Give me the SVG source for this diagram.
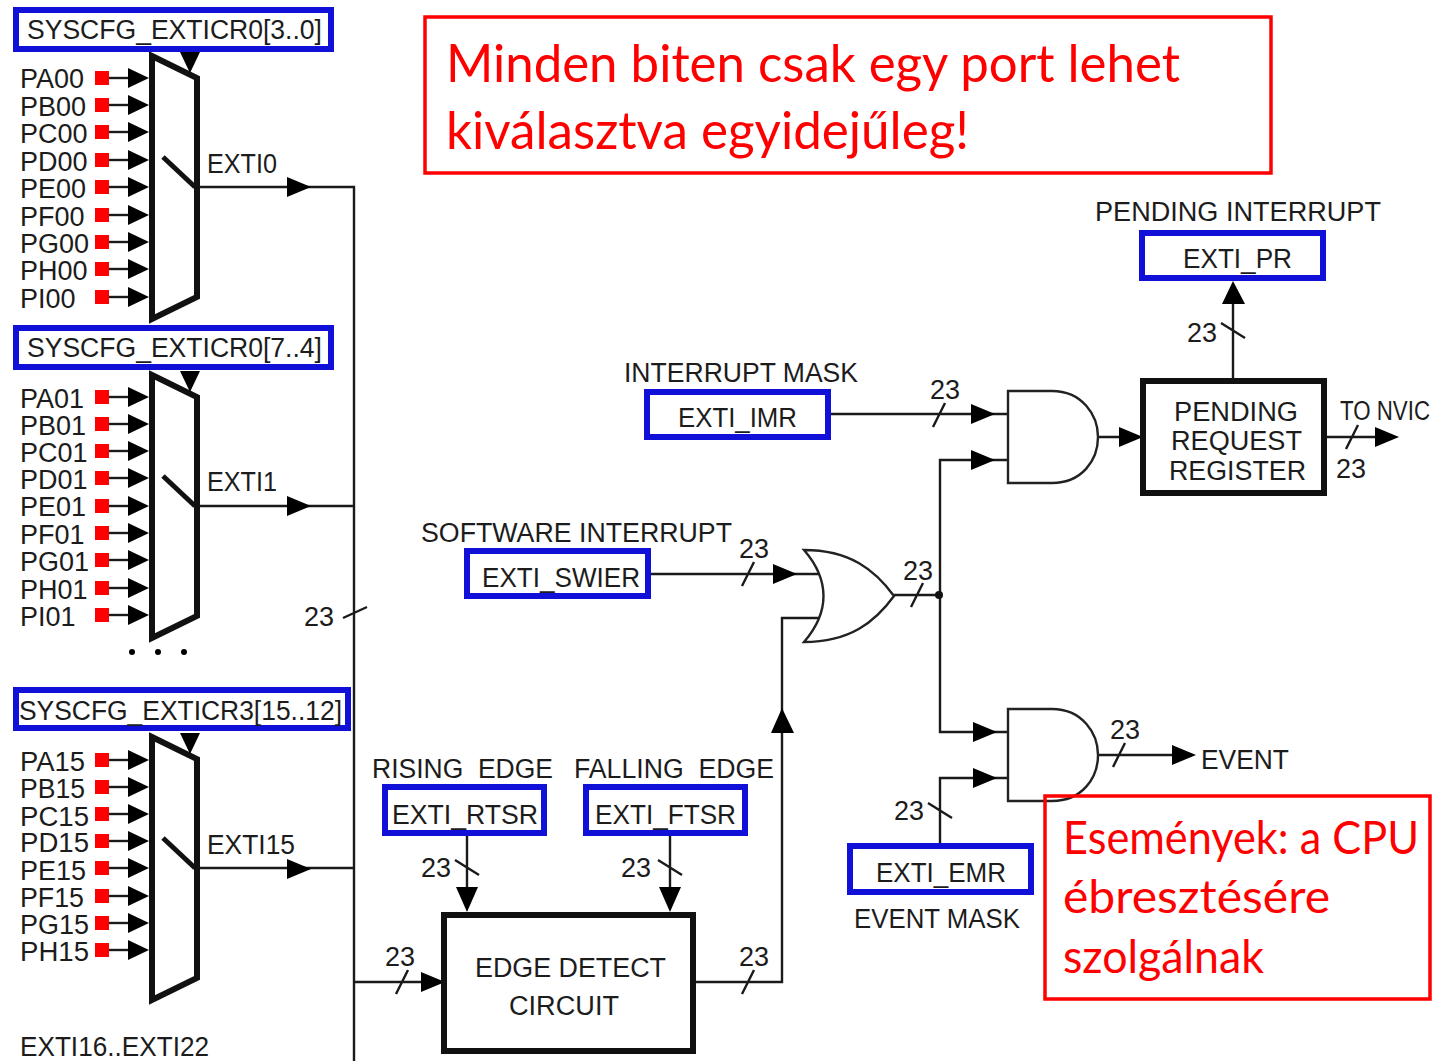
<svg xmlns="http://www.w3.org/2000/svg" xmlns:xlink="http://www.w3.org/1999/xlink" width="1434" height="1061" viewBox="0 0 1434 1061">
<style>
text{font-family:"Liberation Sans",Arial,sans-serif;font-size:27px;fill:#1c1c1c;transform:translate(-1px,0)}
.r{font-family:"Lato","Open Sans",sans-serif;font-size:52px;fill:#f00}
.r2{font-family:"Lato","Open Sans",sans-serif;font-size:46px;fill:#f00}
.w{fill:none;stroke:#1a1a1a;stroke-width:2.4}
.t{fill:#fff;stroke:#111;stroke-width:6;stroke-linejoin:miter}
.m{fill:none;stroke:#111;stroke-width:6}
.b{fill:#fff;stroke:#1010d8;stroke-width:6}
.k{fill:none;stroke:#f00;stroke-width:3.5}
.g{fill:#fff;stroke:#222;stroke-width:2.4}
</style>
<defs>
<g id="in"><rect x="95" y="-7" width="14" height="14" fill="#f00"/><path d="M109 0H130" class="w"/><path d="M128-10L149 0L128 10Z" fill="#000"/></g>
<path id="ar" d="M0-10L24 0L0 10Z" fill="#000"/>
<g id="mux"><path d="M152 56L197 78V297L152 319Z" class="m"/><path d="M163 157L195 187" fill="none" stroke="#111" stroke-width="5"/><path d="M180 52H200L190 73Z" fill="#000"/></g>
</defs>
<g id="connectors">
<path class="w" d="M197 187H354V1061M197 506H354M197 868H354M354 982H430M343 618L367 607"/>
<path class="w" d="M694 982H782V618H822M782 733V982M396 994L408 970M742 994L754 970"/>
<use xlink:href="#ar" transform="translate(287 187)"/><use xlink:href="#ar" transform="translate(287 506)"/><use xlink:href="#ar" transform="translate(287 869)"/>
<use xlink:href="#ar" transform="translate(421 982)"/>
<path d="M771 733L782 708L794 733Z" fill="#000"/>
<path class="w" d="M467 833V890M670 833V890M455 860L479 875M658 860L682 875"/>
<path d="M456 887H478L467 912Z M659 887H681L670 912Z" fill="#000"/>
<path class="w" d="M829 414H1010M933 427L945 403M1098 437H1122M1324 437H1376M1346 449L1358 425M1233 302V378M1221 323L1245 338M650 574H822M742 586L754 562"/>
<use xlink:href="#ar" transform="translate(971 414)"/><use xlink:href="#ar" transform="translate(1119 437)"/><use xlink:href="#ar" transform="translate(1375 437)"/>
<path d="M1222 304L1233 281L1245 304Z" fill="#000"/>
<use xlink:href="#ar" transform="translate(773 574)"/>
<path class="w" d="M894 595H940M911 607L923 583M1008 460H940V732H1008M1008 778H940V844M928 803L952 818M1098 755H1172M1113 767L1125 743"/>
<use xlink:href="#ar" transform="translate(971 460)"/><use xlink:href="#ar" transform="translate(973 732)"/><use xlink:href="#ar" transform="translate(973 778)"/><use xlink:href="#ar" transform="translate(1172 755)"/>
<circle cx="939" cy="595" r="4" fill="#111"/>
<circle cx="132" cy="652" r="3" fill="#000"/><circle cx="158" cy="652" r="3" fill="#000"/><circle cx="184" cy="652" r="3" fill="#000"/>
</g>
<g id="mux0">
<use xlink:href="#in" y="78"/><use xlink:href="#in" y="105"/><use xlink:href="#in" y="132"/><use xlink:href="#in" y="160"/><use xlink:href="#in" y="187"/><use xlink:href="#in" y="215"/><use xlink:href="#in" y="242"/><use xlink:href="#in" y="269"/><use xlink:href="#in" y="297"/>
<use xlink:href="#mux"/>
<text x="21" y="88">PA00</text><text x="21" y="116">PB00</text><text x="21" y="143">PC00</text><text x="21" y="171">PD00</text><text x="21" y="198">PE00</text><text x="21" y="226">PF00</text><text x="21" y="253">PG00</text><text x="21" y="280">PH00</text><text x="21" y="308">PI00</text>
<text x="208" y="173" textLength="70" lengthAdjust="spacingAndGlyphs">EXTI0</text>
</g>
<g id="mux1">
<use xlink:href="#in" y="397"/><use xlink:href="#in" y="424"/><use xlink:href="#in" y="451"/><use xlink:href="#in" y="478"/><use xlink:href="#in" y="506"/><use xlink:href="#in" y="533"/><use xlink:href="#in" y="560"/><use xlink:href="#in" y="588"/><use xlink:href="#in" y="615"/>
<use xlink:href="#mux" y="319"/>
<text x="21" y="408">PA01</text><text x="21" y="435">PB01</text><text x="21" y="462">PC01</text><text x="21" y="489">PD01</text><text x="21" y="516">PE01</text><text x="21" y="544">PF01</text><text x="21" y="571">PG01</text><text x="21" y="599">PH01</text><text x="21" y="626">PI01</text>
<text x="208" y="491" textLength="70" lengthAdjust="spacingAndGlyphs">EXTI1</text>
</g>
<g id="mux15">
<use xlink:href="#in" y="760"/><use xlink:href="#in" y="787"/><use xlink:href="#in" y="814"/><use xlink:href="#in" y="841"/><use xlink:href="#in" y="868"/><use xlink:href="#in" y="896"/><use xlink:href="#in" y="923"/><use xlink:href="#in" y="950"/>
<use xlink:href="#mux" y="681"/>
<text x="21" y="771" textLength="65" lengthAdjust="spacingAndGlyphs">PA15</text><text x="21" y="798" textLength="65" lengthAdjust="spacingAndGlyphs">PB15</text><text x="21" y="826" textLength="69" lengthAdjust="spacingAndGlyphs">PC15</text><text x="21" y="852" textLength="69" lengthAdjust="spacingAndGlyphs">PD15</text><text x="21" y="880" textLength="66" lengthAdjust="spacingAndGlyphs">PE15</text><text x="21" y="907" textLength="64" lengthAdjust="spacingAndGlyphs">PF15</text><text x="21" y="934" textLength="69" lengthAdjust="spacingAndGlyphs">PG15</text><text x="21" y="961" textLength="69" lengthAdjust="spacingAndGlyphs">PH15</text>
<text x="208" y="854" textLength="88" lengthAdjust="spacingAndGlyphs">EXTI15</text>
</g>
<g id="reg-exticr0"><rect class="b" x="16" y="10" width="315" height="39"/><text x="28" y="39" textLength="295" lengthAdjust="spacingAndGlyphs">SYSCFG_EXTICR0[3..0]</text></g>
<g id="reg-exticr0b"><rect class="b" x="16" y="328" width="315" height="39"/><text x="28" y="357" textLength="295" lengthAdjust="spacingAndGlyphs">SYSCFG_EXTICR0[7..4]</text></g>
<g id="reg-exticr3"><rect class="b" x="16" y="690" width="332" height="38"/><text x="20" y="720" textLength="323" lengthAdjust="spacingAndGlyphs">SYSCFG_EXTICR3[15..12]</text></g>
<g id="labels">
<text x="305" y="626">23</text>
<text x="21" y="1056" textLength="189" lengthAdjust="spacingAndGlyphs">EXTI16..EXTI22</text>
<text x="386" y="966">23</text><text x="422" y="877">23</text><text x="622" y="877">23</text><text x="740" y="966">23</text>
<text x="931" y="399">23</text><text x="1188" y="342">23</text><text x="1337" y="478">23</text><text x="740" y="558">23</text><text x="904" y="580">23</text><text x="1111" y="739">23</text><text x="895" y="820">23</text>
<text x="1096" y="221" textLength="286" lengthAdjust="spacingAndGlyphs">PENDING INTERRUPT</text>
<text x="625" y="382" textLength="234" lengthAdjust="spacingAndGlyphs">INTERRUPT MASK</text>
<text x="422" y="542" textLength="311" lengthAdjust="spacingAndGlyphs">SOFTWARE INTERRUPT</text>
<text x="373" y="778" textLength="181" lengthAdjust="spacingAndGlyphs" xml:space="preserve">RISING  EDGE</text>
<text x="575" y="778" textLength="200" lengthAdjust="spacingAndGlyphs" xml:space="preserve">FALLING  EDGE</text>
<text x="855" y="928" textLength="166" lengthAdjust="spacingAndGlyphs">EVENT MASK</text>
<text x="1202" y="769" textLength="88" lengthAdjust="spacingAndGlyphs">EVENT</text>
<text x="1341" y="420" textLength="90" lengthAdjust="spacingAndGlyphs">TO NVIC</text>
</g>
<g id="exti-pr"><rect class="b" x="1142" y="233" width="181" height="45"/><text x="1184" y="268" textLength="109" lengthAdjust="spacingAndGlyphs">EXTI_PR</text></g>
<g id="exti-imr"><rect class="b" x="647" y="392" width="181" height="45"/><text x="679" y="427" textLength="119" lengthAdjust="spacingAndGlyphs">EXTI_IMR</text></g>
<g id="exti-swier"><rect class="b" x="467" y="551" width="181" height="45"/><text x="483" y="587" textLength="158" lengthAdjust="spacingAndGlyphs">EXTI_SWIER</text></g>
<g id="exti-rtsr"><rect class="b" x="385" y="787" width="159" height="46"/><text x="393" y="824" textLength="146" lengthAdjust="spacingAndGlyphs">EXTI_RTSR</text></g>
<g id="exti-ftsr"><rect class="b" x="586" y="787" width="159" height="46"/><text x="596" y="824" textLength="141" lengthAdjust="spacingAndGlyphs">EXTI_FTSR</text></g>
<g id="exti-emr"><rect class="b" x="850" y="846" width="181" height="46"/><text x="877" y="882" textLength="130" lengthAdjust="spacingAndGlyphs">EXTI_EMR</text></g>
<g id="edge-detect"><rect class="t" x="444" y="915" width="249" height="136"/><text x="476" y="977" textLength="191" lengthAdjust="spacingAndGlyphs">EDGE DETECT</text><text x="510" y="1015" textLength="110" lengthAdjust="spacingAndGlyphs">CIRCUIT</text></g>
<g id="pending-register"><rect class="t" x="1143" y="381" width="181" height="112"/><text x="1175" y="421" textLength="124" lengthAdjust="spacingAndGlyphs">PENDING</text><text x="1172" y="450" textLength="131" lengthAdjust="spacingAndGlyphs">REQUEST</text><text x="1170" y="480" textLength="137" lengthAdjust="spacingAndGlyphs">REGISTER</text></g>
<g id="and1"><path class="g" d="M1008 391H1052C1082 391 1098 415 1098 437C1098 460 1082 483 1052 483H1008Z"/></g>
<g id="and2"><path class="g" d="M1008 709H1052C1082 709 1098 733 1098 755C1098 778 1082 801 1052 801H1008Z"/></g>
<g id="or1"><path class="g" d="M804 550C850 550 875 570 894 596C875 622 850 642 804 642C830 612 830 580 804 550Z"/></g>
<g id="note1"><rect class="k" x="425" y="17" width="846" height="156" fill="#fff"/><text class="r" x="447" y="82" textLength="734" lengthAdjust="spacingAndGlyphs">Minden biten csak egy port lehet</text><text class="r" x="447" y="149" textLength="523" lengthAdjust="spacingAndGlyphs">kiválasztva egyidejűleg!</text></g>
<g id="note2"><rect class="k" x="1045" y="796" width="385" height="203" fill="#fff"/><text class="r2" x="1064" y="854" textLength="356" lengthAdjust="spacingAndGlyphs">Események: a CPU</text><text class="r2" x="1064" y="913" textLength="267" lengthAdjust="spacingAndGlyphs">ébresztésére</text><text class="r2" x="1064" y="973" textLength="201" lengthAdjust="spacingAndGlyphs">szolgálnak</text></g>
</svg>
